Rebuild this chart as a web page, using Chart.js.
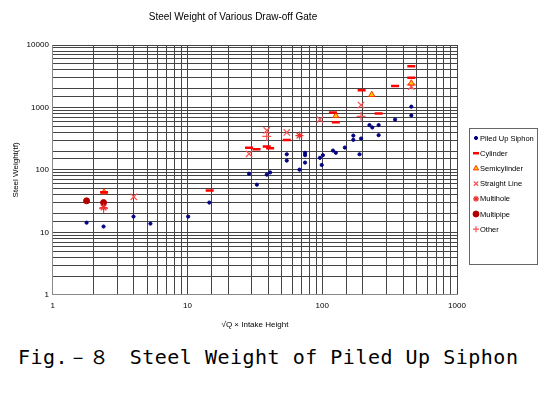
<!DOCTYPE html>
<html>
<head>
<meta charset="UTF-8">
<script src="https://cdn.jsdelivr.net/npm/chart.js@4.4.0/dist/chart.umd.min.js"></script>
<style>
  body { margin: 0; background: #fff; width: 540px; height: 400px; overflow: hidden; font-family: "Liberation Sans", sans-serif; }
  #c { position: absolute; left: 0; top: 0; }
  #caption { position: absolute; left: 18px; top: 344px; font-family: "DejaVu Sans Mono", monospace; font-size: 20px; letter-spacing: 0.5px; }
</style>
</head>
<body>
<canvas id="c" width="540" height="334"></canvas>
<div id="caption">Fig.－８　Steel Weight of Piled Up Siphon</div>
<script>
const seriesNames = ['Piled Up Siphon', 'Cylinder', 'Semicylinder', 'Straight Line', 'Multihole', 'Multipipe', 'Other'];
const piledUp = [[1.78,14.3],[2.38,12.4],[3.97,17.9],[5.3,13.8],[10.1,17.9],[14.5,30],[28.6,87],[32.7,58],
  [38.7,84],[41,91],[54.5,178],[54.5,141],[67.7,101],[74.5,188],[74.5,172],[74.5,131],[96,156],[101,172],
  [99,120],[120,204],[126,188],[147,228],[170,354],[170,303],[194,318],[189,178],[224,522],[235,478],
  [262,522],[262,360],[347,640],[458,1030],[458,744]];
const cylinder = [[2.4,44],[14.6,47],[28.6,226],[32.5,215],[38.7,238],[41,223],[54.5,300],[120,830],
  [126,580],[196,1890],[262,800],[347,2200],[458,4560],[458,3000]];
const semicylinder = [[2.4,44],[233,1600],[126,735],[458,2440]];
const straightLine = [[3.99,37],[28.6,181],[38.7,429],[54.5,398],[96,640],[194,1090],[458,2160]];
const multihole = [[67.7,355],[2.38,25]];
const multipipe = [[1.78,32],[2.38,30]];
const other = [[38.7,344],[194,720],[2.38,24],[458,2300]];

const toPts = a => a.map(p => ({x: p[0], y: p[1]}));
const styles = [
  {pointStyle: 'circle', backgroundColor: '#000080', borderColor: '#000080', pointRadius: 1.6, borderWidth: 1},
  {pointStyle: 'line', backgroundColor: '#ff0000', borderColor: '#ff0000', pointRadius: 4, borderWidth: 2.5},
  {pointStyle: 'triangle', backgroundColor: '#ffcc00', borderColor: '#ff3300', pointRadius: 3.5, borderWidth: 1},
  {pointStyle: 'crossRot', backgroundColor: '#ff5050', borderColor: '#ff5050', pointRadius: 4.5, borderWidth: 1.2},
  {pointStyle: 'star', backgroundColor: '#f03030', borderColor: '#f03030', pointRadius: 4, borderWidth: 1.2},
  {pointStyle: 'circle', backgroundColor: '#b00000', borderColor: '#b00000', pointRadius: 3, borderWidth: 1},
  {pointStyle: 'cross', backgroundColor: '#ff5050', borderColor: '#ff5050', pointRadius: 4.5, borderWidth: 1.2}
];
const data = [piledUp, cylinder, semicylinder, straightLine, multihole, multipipe, other];

// custom legend box at the right of the plot
const legendBox = {
  id: 'legendBox',
  afterDraw(chart) {
    const ctx = chart.ctx;
    const x0 = 469, y0 = 128, w = 69, h = 137;
    ctx.save();
    ctx.fillStyle = '#fff';
    ctx.fillRect(x0, y0, w, h);
    ctx.strokeStyle = '#666'; ctx.lineWidth = 1;
    ctx.strokeRect(x0 + 0.5, y0 + 0.5, w - 1, h - 1);
    ctx.font = '7.5px "Liberation Sans"';
    ctx.textBaseline = 'middle';
    seriesNames.forEach((n, i) => {
      const y = y0 + 10 + i * 15.2;
      const s = styles[i];
      ctx.fillStyle = s.backgroundColor; ctx.strokeStyle = s.borderColor; ctx.lineWidth = s.borderWidth;
      Chart.helpers.drawPoint(ctx, {pointStyle: s.pointStyle, radius: Math.min(s.pointRadius, 3), rotation: 0, borderWidth: s.borderWidth}, x0 + 7, y);
      ctx.fillStyle = '#000';
      ctx.fillText(n, x0 + 11, y + 0.5);
    });
    ctx.restore();
  }
};

const majors = [1, 10, 100, 1000, 10000];
const tickLabel = v => majors.includes(v) ? String(v) : '';

new Chart(document.getElementById('c'), {
  type: 'scatter',
  data: {
    datasets: seriesNames.map((n, i) => Object.assign({label: n, data: toPts(data[i])}, styles[i]))
  },
  options: {
    responsive: false, animation: false,
    layout: {padding: {left: 9, right: 83, top: 0, bottom: 0}},
    plugins: {
      title: {display: true, text: 'Steel Weight of Various Draw-off Gate', color: '#000',
        font: {family: 'Liberation Sans', size: 10, weight: 'normal'}, padding: {top: 11, bottom: 22}},
      legend: {display: false},
      tooltip: {enabled: false}
    },
    scales: {
      x: {type: 'logarithmic', min: 1, max: 1000,
        title: {display: true, text: '√Q × Intake Height', color: '#000', font: {size: 8}, padding: {top: 4}},
        grid: {color: '#444', drawTicks: false},
        border: {color: '#888'},
        ticks: {autoSkip: false, color: '#000', font: {size: 8}, maxRotation: 0, padding: 6, callback: tickLabel}},
      y: {type: 'logarithmic', min: 1, max: 10000,
        title: {display: true, text: 'Steel Weight(tf)', color: '#000', font: {size: 8}, padding: 2},
        grid: {color: '#444', drawTicks: false},
        border: {color: '#888'},
        ticks: {autoSkip: false, color: '#000', font: {size: 8}, padding: 4, callback: tickLabel}}
    }
  },
  plugins: [legendBox]
});
</script>
</body>
</html>
